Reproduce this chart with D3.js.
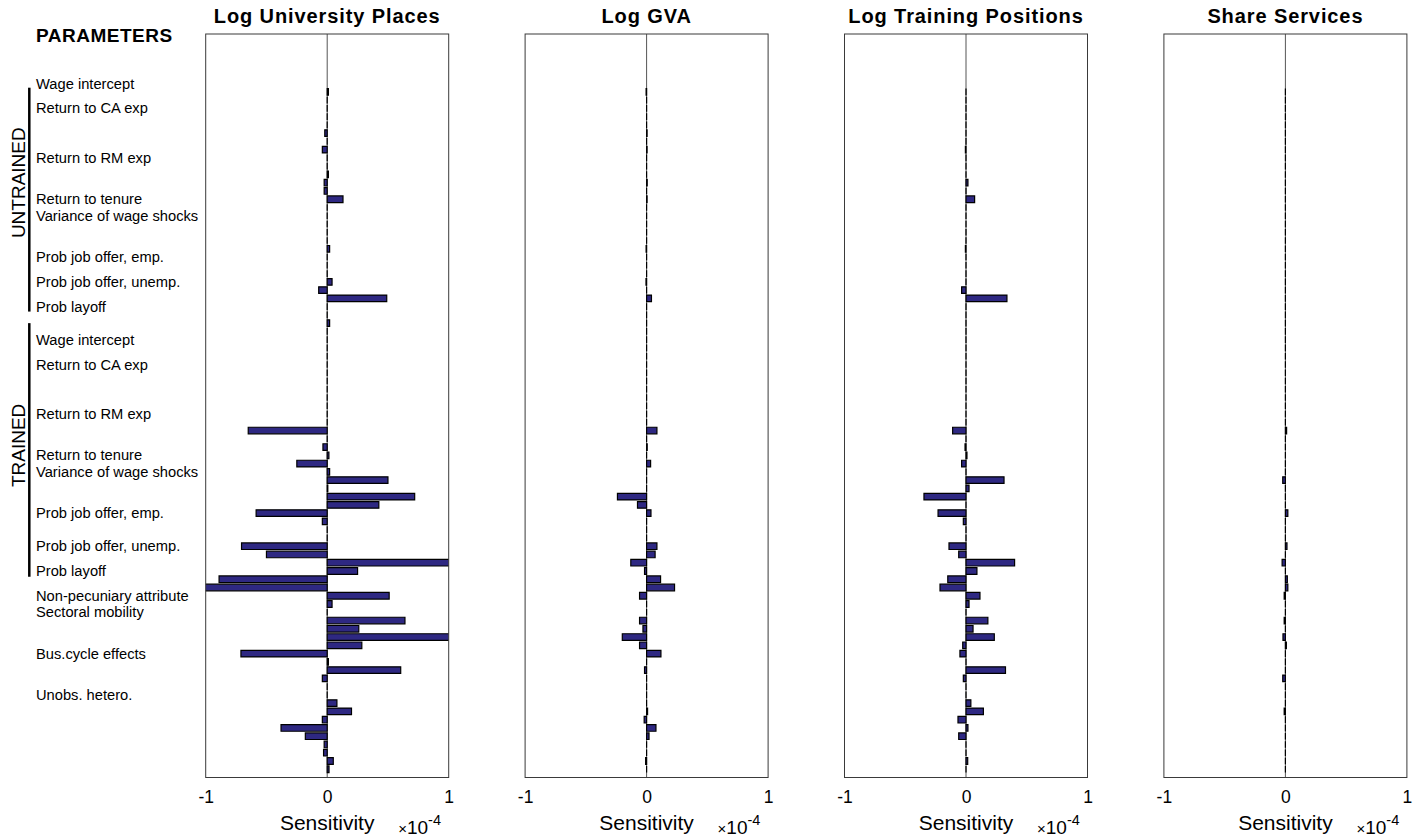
<!DOCTYPE html>
<html><head><meta charset="utf-8">
<script src="https://cdn.jsdelivr.net/npm/d3@7"></script>
<style>
body{margin:0;background:#fff}
svg{display:block}
text{font-family:"Liberation Sans",Arial,Helvetica,sans-serif;fill:#000}
</style>
</head><body>
<svg id="c" width="1422" height="838"></svg>
<script>
// ---------------- DATA ----------------
const panelTitles = ["Log University Places", "Log GVA", "Log Training Positions", "Share Services"];

// bar slots 7..89 (slots 1..6 are empty), values in units of 1e-4
const barSlots = d3.range(7, 90);

const logUniversityPlaces = [
  0.01, 0, 0, 0, 0, -0.02, 0, -0.04, 0, 0,
  0.01, -0.025, -0.025, 0.13, 0, 0, 0, 0, 0, 0.02,
  0, 0, 0, 0.04, -0.07, 0.49, 0, 0, 0.02, 0,
  0, 0, 0, 0, 0, 0, 0, 0, 0, 0,
  0, -0.65, 0, -0.035, 0.014, -0.25, 0.02, 0.50, 0.005, 0.72,
  0.425, -0.585, -0.04, 0, 0, -0.705, -0.50, 1.3, 0.25, -0.89,
  -1.2, 0.51, 0.04, 0, 0.64, 0.26, 1.3, 0.285, -0.71, 0.01,
  0.605, -0.04, 0, 0, 0.08, 0.20, -0.04, -0.38, -0.18, -0.025,
  -0.03, 0.05, 0.015
];
const logGVA = [
  -0.004, 0, 0, 0, 0, 0.004, 0, 0.004, 0, 0,
  0, 0.005, 0, 0.004, 0, 0, 0, 0, 0, -0.004,
  0, 0, 0, -0.005, 0, 0.04, 0, 0, 0, 0,
  0, 0, 0, 0, 0, 0, 0, 0, 0, 0,
  0, 0.085, 0, 0.005, 0, 0.033, 0, 0, 0, -0.24,
  -0.075, 0.036, 0, 0, 0, 0.085, 0.07, -0.13, -0.017, 0.115,
  0.23, -0.058, 0, 0, -0.058, -0.03, -0.2, -0.058, 0.118, 0,
  -0.017, 0, 0, 0, 0, 0.008, -0.02, 0.077, 0.02, 0,
  0, -0.008, 0
];
const logTrainingPositions = [
  0, 0, 0, 0, 0, 0, 0, -0.005, 0, 0,
  0, 0.016, 0, 0.071, 0, 0, 0, 0, 0, -0.005,
  0, 0, 0, 0, -0.036, 0.337, 0, 0, 0, 0,
  0, 0, 0, 0, 0, 0, 0, 0, 0, 0,
  0, -0.11, 0, -0.008, 0.008, -0.036, 0, 0.313, 0.025, -0.346,
  0, -0.23, -0.022, 0, 0, -0.14, -0.06, 0.40, 0.09, -0.15,
  -0.214, 0.115, 0.025, 0, 0.18, 0.058, 0.233, -0.027, -0.05, 0,
  0.325, -0.022, 0, 0, 0.04, 0.143, -0.066, 0.016, -0.06, 0,
  0, 0.014, 0
];
const shareServices = [
  0, 0, 0, 0, 0, 0, 0, 0, 0, 0,
  0, 0, 0, 0, 0, 0, 0, 0, 0, 0,
  0, 0, 0, 0, 0, 0, 0, 0, 0, 0,
  0, 0, 0, 0, 0, 0, 0, 0, 0, 0,
  0, 0.01, 0, 0, 0, 0, 0, -0.022, 0, 0,
  0, 0.02, 0, 0, 0, 0.013, 0, -0.027, 0, 0.016,
  0.02, -0.01, 0, 0, -0.01, 0, -0.02, 0.008, 0, 0,
  0, -0.022, 0, 0, 0, -0.01, 0, 0, 0, 0,
  0, 0, 0
];

const paramLabels = [
  "Wage intercept", "Return to CA exp", "Return to RM exp", "Return to tenure",
  "Variance of wage shocks", "Prob job offer, emp.", "Prob job offer, unemp.", "Prob layoff",
  "Wage intercept", "Return to CA exp", "Return to RM exp", "Return to tenure",
  "Variance of wage shocks", "Prob job offer, emp.", "Prob job offer, unemp.", "Prob layoff",
  "Non-pecuniary attribute", "Sectoral mobility", "Bus.cycle effects", "Unobs. hetero."
];
const paramTicks = [6, 9, 15, 20, 22, 27, 30, 33, 37, 40, 46, 51, 53, 58, 62, 65, 68, 70, 75, 80];

const groupNames = ["UNTRAINED", "TRAINED"];
const groupFrom = [6.5, 35.0];
const groupTo = [33.6, 65.7];
const groupMid = [18.0, 49.8];

const xTicks = [-1, 0, 1];

// ---------------- LAYOUT ----------------
const svg = d3.select("#c");
const defs = svg.append("defs");
const TOP = 34, BOT = 777.5, PW = 243, FIRST_LEFT = 205.7, STEP = 319.4;
const barColor = "#2e2882";
const y = d3.scaleLinear().domain([0, 90]).range([TOP, BOT]);
const bh = (y(1) - y(0)) * 0.8;

const series = [logUniversityPlaces, logGVA, logTrainingPositions, shareServices];

series.forEach((vals, k) => {
  const left = FIRST_LEFT + k * STEP;
  const x = d3.scaleLinear().domain([-1, 1]).range([left, left + PW]);
  const g = svg.append("g");
  const cid = "clip" + k;
  defs.append("clipPath").attr("id", cid).append("rect")
    .attr("x", left).attr("y", TOP).attr("width", PW).attr("height", BOT - TOP);

  // baseline
  g.append("line").attr("x1", x(0)).attr("x2", x(0)).attr("y1", TOP).attr("y2", BOT)
    .attr("stroke", "#555").attr("stroke-width", 1);

  // bars
  g.append("g").attr("clip-path", `url(#${cid})`)
    .selectAll("path").data(vals).join("path")
    .attr("d", (v, i) => {
      const yc = y(barSlots[i]);
      const x0 = x(0), x1 = x(v);
      return `M${x0},${yc - bh / 2}H${x1}V${yc + bh / 2}H${x0}Z`;
    })
    .attr("fill", barColor)
    .attr("stroke", "#000")
    .attr("stroke-width", 1.2);

  // box
  g.append("rect").attr("x", left).attr("y", TOP).attr("width", PW).attr("height", BOT - TOP)
    .attr("fill", "none").attr("stroke", "#3a3a3a").attr("stroke-width", 1);

  // x axis tick labels
  const ax = g.append("g").attr("transform", `translate(0,${BOT})`)
    .call(d3.axisBottom(x).tickValues(xTicks).tickSize(0).tickPadding(13.5).tickFormat(d => String(d)));
  ax.select(".domain").remove();
  ax.selectAll("text").attr("font-size", 17.5).attr("fill", "#262626")
    .attr("font-family", "Liberation Sans, Arial, sans-serif");

  // title
  g.append("text").attr("x", left + PW / 2).attr("y", 23).attr("text-anchor", "middle")
    .attr("font-size", 20).attr("font-weight", "bold").attr("letter-spacing", 0.9)
    .text(panelTitles[k]);

  // x label
  g.append("text").attr("x", left + PW / 2).attr("y", 829.5).attr("text-anchor", "middle")
    .attr("font-size", 21).attr("fill", "#262626").text("Sensitivity");

  // exponent
  const ex = g.append("text").attr("x", left + 192.5).attr("y", 833.5).attr("font-size", 19).attr("fill", "#262626");
  ex.append("tspan").attr("font-size", 15).text("\u00d7");
  ex.append("tspan").text("10");
  ex.append("tspan").attr("dy", -9).attr("font-size", 14.5).text("-4");
});

// parameters header
svg.append("text").attr("x", 36).attr("y", 41.5).attr("font-size", 19).attr("font-weight", "bold")
  .attr("letter-spacing", 0.5).text("PARAMETERS");

// parameter labels
svg.append("g").selectAll("text").data(paramLabels).join("text")
  .attr("x", 36).attr("y", (d, i) => y(paramTicks[i]))
  .attr("dy", "0.35em").attr("font-size", 14.7).text(d => d);

// group brackets
groupNames.forEach((name, i) => {
  svg.append("line").attr("x1", 29.3).attr("x2", 29.3)
    .attr("y1", y(groupFrom[i])).attr("y2", y(groupTo[i]))
    .attr("stroke", "#000").attr("stroke-width", 2.5);
  const ym = y(groupMid[i]);
  svg.append("text").attr("transform", `translate(24.5,${ym}) rotate(-90)`)
    .attr("text-anchor", "middle").attr("font-size", 19).text(name);
});
</script>
</body></html>
